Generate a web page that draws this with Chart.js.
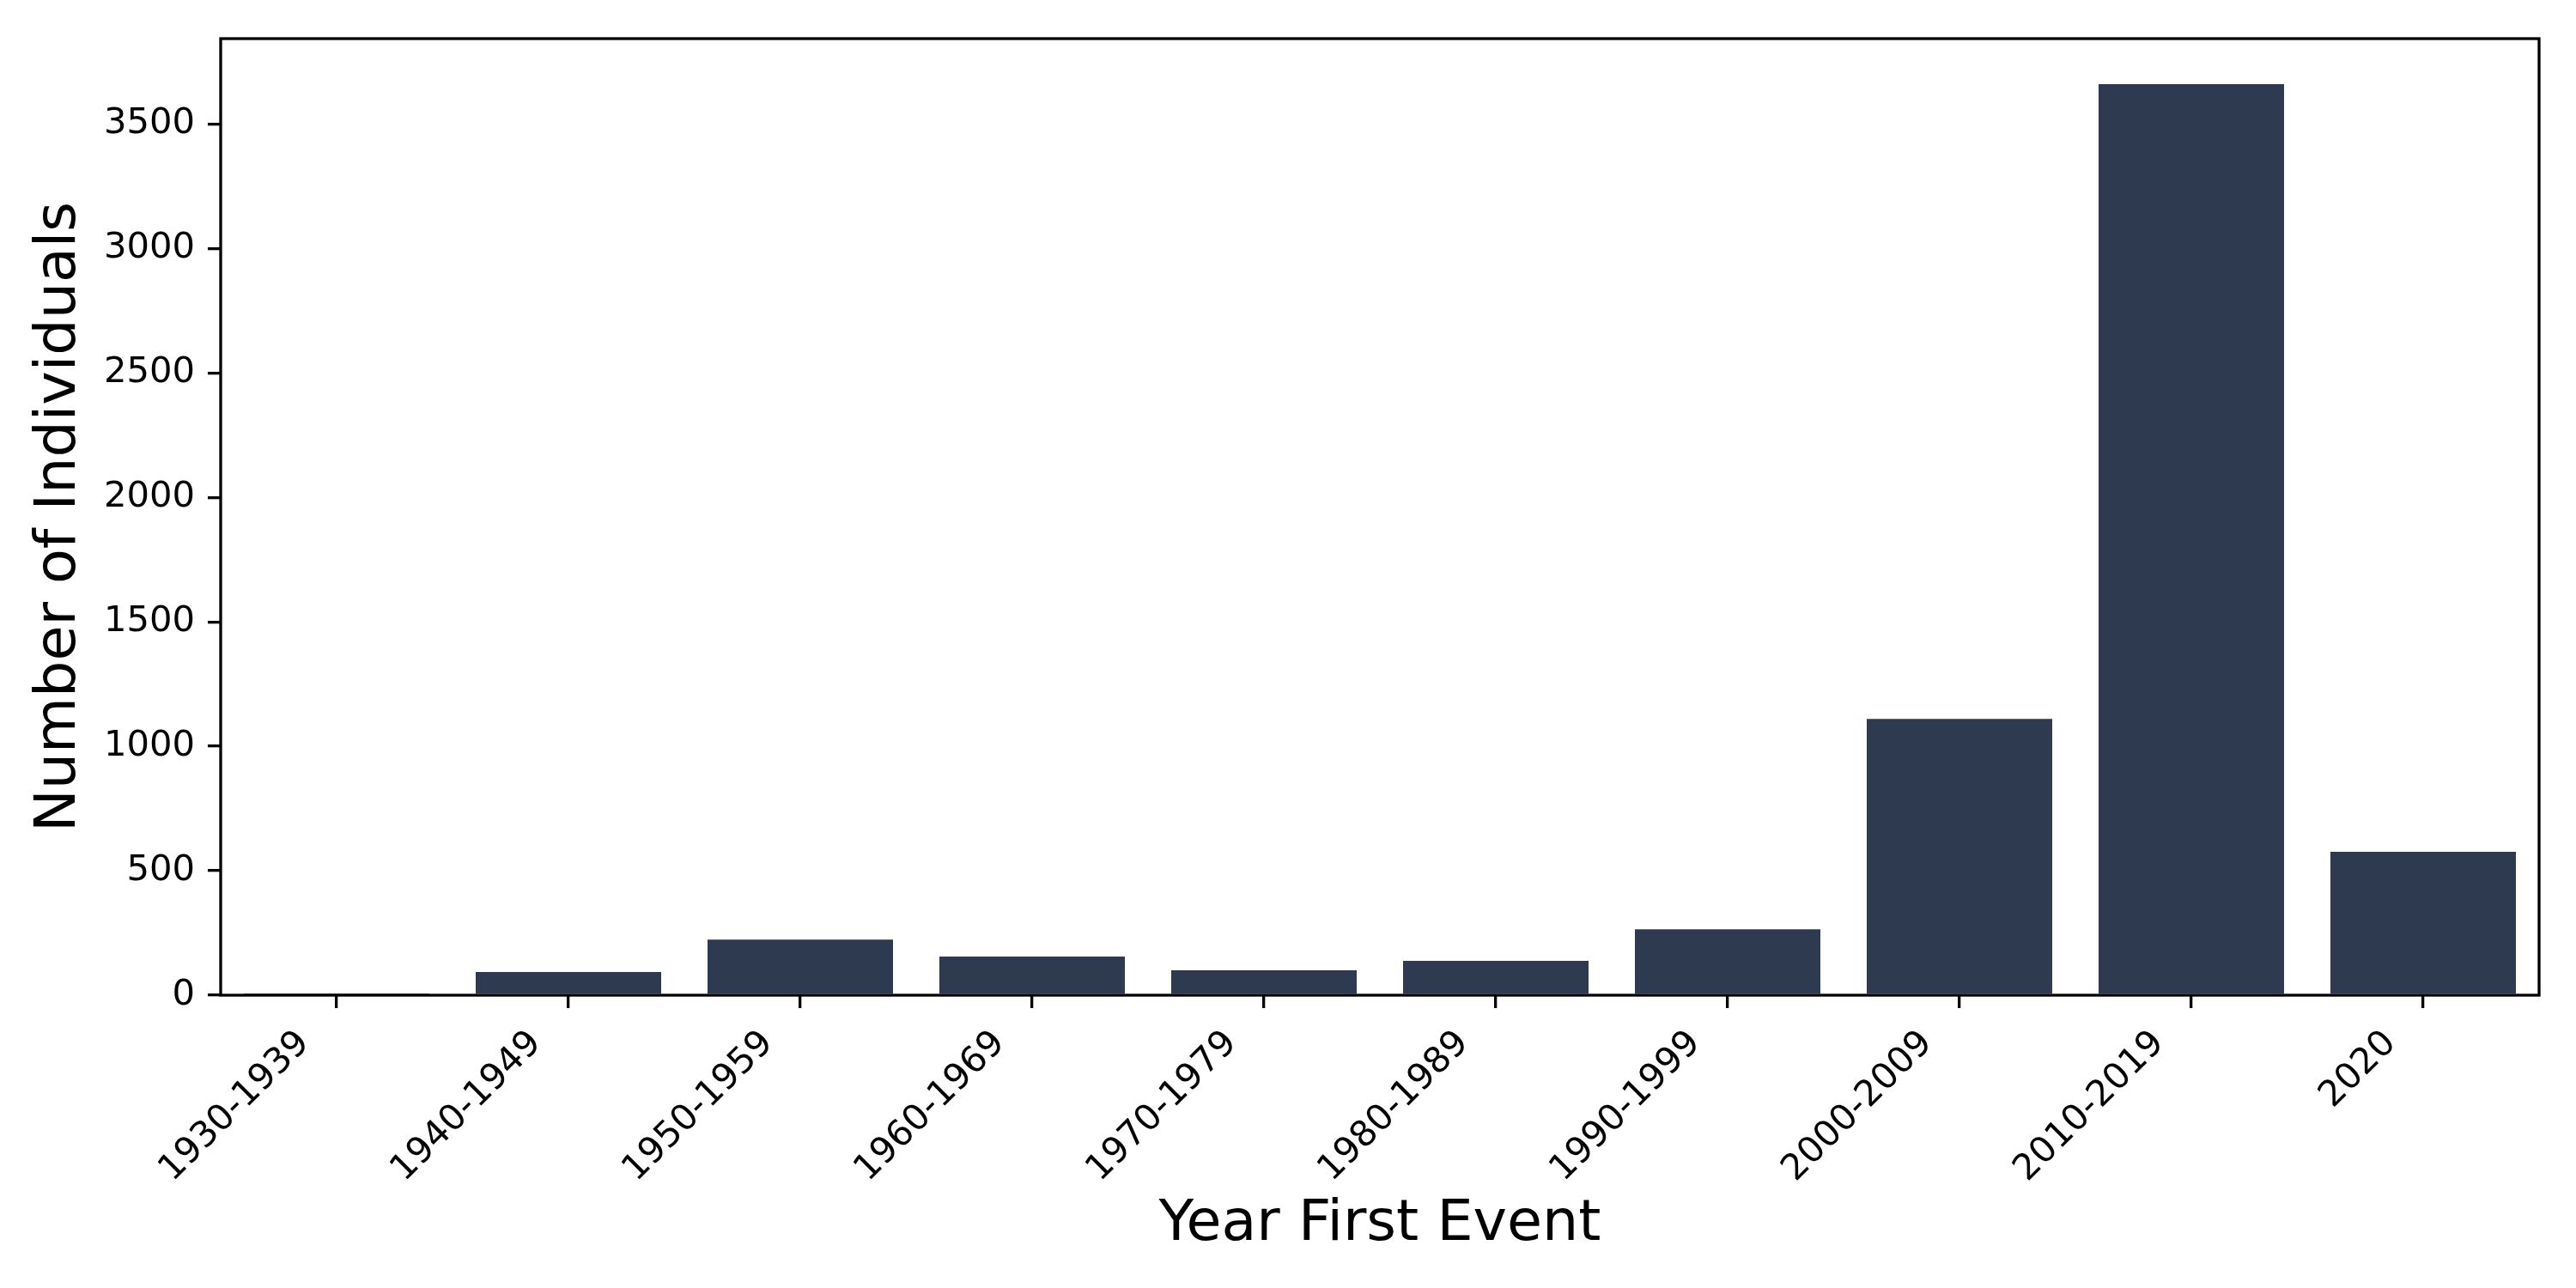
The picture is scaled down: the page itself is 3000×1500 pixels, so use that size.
<!DOCTYPE html>
<html>
<head>
    <meta charset="UTF-8">
    <title>Year First Event</title>
    <script src="https://cdn.jsdelivr.net/npm/chart.js"></script>
    <style>
        body { margin: 0; background: #ffffff; }
    </style>
</head>
<body>
    <canvas id="chart" width="3000" height="1500"></canvas>

    <script>
        // Data
        var decades = ['1930-1939', '1940-1949', '1950-1959', '1960-1969', '1970-1979',
                       '1980-1989', '1990-1999', '2000-2009', '2010-2019', '2020'];
        var individuals = [1, 93, 223, 155, 100, 138, 265, 1110, 3660, 576];
        var yTicks = [0, 500, 1000, 1500, 2000, 2500, 3000, 3500];
        var yMax = 3843;   // matplotlib-style 5% headroom above the tallest bar

        var xTitle = 'Year First Event';
        var yTitle = 'Number of Individuals';

        var font = 'DejaVu Sans';
        var lw = 3.3;

        // Draws the black frame round the plot area
        var frame = {
            id: 'frame',
            afterDatasetsDraw: function(chart) {
                var a = chart.chartArea;
                var ctx = chart.ctx;
                ctx.save();
                ctx.strokeStyle = '#000';
                ctx.lineWidth = lw;
                ctx.strokeRect(a.left, a.top, a.right - a.left, a.bottom - a.top);
                ctx.restore();
            }
        };

        var ctx = document.getElementById('chart').getContext('2d');
        var chart = new Chart(ctx, {
            type: 'bar',
            data: {
                labels: decades,
                datasets: [{
                    label: yTitle,
                    data: individuals,
                    backgroundColor: '#2e3a50',
                    borderWidth: 0,
                    categoryPercentage: 0.8,
                    barPercentage: 1.0
                }]
            },
            options: {
                responsive: false,
                animation: false,
                devicePixelRatio: 1,
                layout: { padding: { left: 0, right: 43, top: 45, bottom: 0 } },
                plugins: {
                    legend: { display: false },
                    tooltip: { enabled: false }
                },
                scales: {
                    x: {
                        offset: true,
                        border: { display: false },
                        grid: {
                            offset: false,
                            drawOnChartArea: false,
                            drawTicks: true,
                            tickLength: 15,
                            lineWidth: lw,
                            color: '#000'
                        },
                        ticks: {
                            autoSkip: false,
                            maxRotation: 45,
                            minRotation: 45,
                            padding: 17,
                            labelOffset: -38,
                            color: '#000',
                            font: { family: font, size: 41.7 }
                        },
                        title: {
                            display: true,
                            text: xTitle,
                            color: '#000',
                            font: { family: font, size: 66.7 },
                            padding: { top: 0, bottom: 33 }
                        },
                        afterFit: function(scale) { scale.height = 341; }
                    },
                    y: {
                        min: 0,
                        max: yMax,
                        border: { display: false },
                        grid: {
                            drawOnChartArea: false,
                            drawTicks: true,
                            tickLength: 15,
                            lineWidth: lw,
                            color: '#000'
                        },
                        ticks: {
                            padding: 15,
                            color: '#000',
                            font: { family: font, size: 41.7 },
                            callback: function(value) { return String(value); }
                        },
                        afterBuildTicks: function(scale) {
                            scale.ticks = yTicks.map(function(v) { return { value: v }; });
                        },
                        title: {
                            display: true,
                            text: yTitle,
                            color: '#000',
                            font: { family: font, size: 66.7 },
                            padding: { top: 30, bottom: 0 }
                        },
                        afterFit: function(scale) { scale.width = 257; }
                    }
                }
            },
            plugins: [frame]
        });
    </script>
</body>
</html>
